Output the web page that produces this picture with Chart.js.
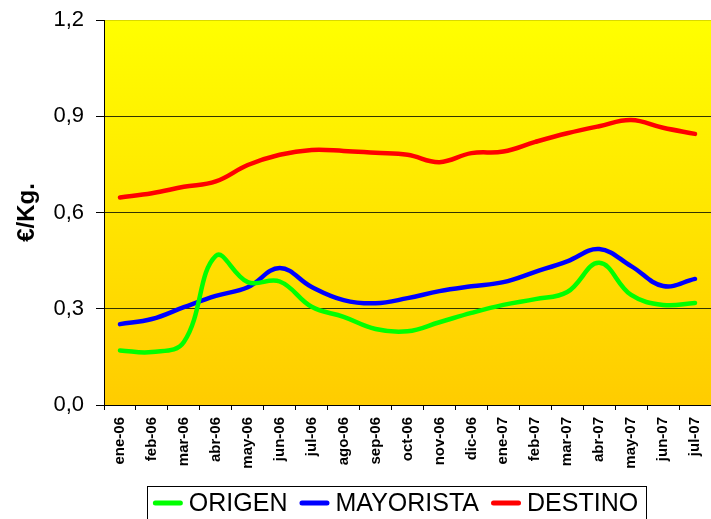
<!DOCTYPE html>
<html>
<head>
<meta charset="utf-8">
<script src="https://cdn.jsdelivr.net/npm/chart.js@4/dist/chart.umd.min.js"></script>
<style>
  html, body { margin: 0; padding: 0; background: #ffffff; }
  #wrap { width: 711px; height: 519px; }
</style>
</head>
<body>
<div id="wrap"><canvas id="precios"></canvas></div>
<script>
// Months shown along the x axis
const meses = ['ene-06', 'feb-06', 'mar-06', 'abr-06', 'may-06', 'jun-06', 'jul-06', 'ago-06', 'sep-06', 'oct-06',
               'nov-06', 'dic-06', 'ene-07', 'feb-07', 'mar-07', 'abr-07', 'may-07', 'jun-07', 'jul-07'];

// Prices in €/Kg. for each stage of the chain
const origen    = [0.17, 0.165, 0.196, 0.465, 0.383, 0.385, 0.306, 0.275, 0.237, 0.23,
                   0.258, 0.287, 0.312, 0.33, 0.352, 0.443, 0.343, 0.312, 0.318];
const mayorista = [0.252, 0.268, 0.305, 0.34, 0.367, 0.427, 0.368, 0.327, 0.317, 0.333,
                   0.355, 0.37, 0.383, 0.415, 0.448, 0.486, 0.433, 0.371, 0.393];
const destino   = [0.647, 0.66, 0.68, 0.697, 0.748, 0.78, 0.795, 0.792, 0.786, 0.78,
                   0.757, 0.785, 0.79, 0.82, 0.847, 0.869, 0.888, 0.864, 0.845];

const yTicks = [0, 0.3, 0.6, 0.9, 1.2];

const fontFamily = "'Liberation Sans', Arial, sans-serif";

// yellow to amber fill behind the plot
const plotBackground = {
  id: 'plotBackground',
  beforeDraw(chart) {
    const { ctx, chartArea: a } = chart;
    const g = ctx.createLinearGradient(0, a.top, 0, a.bottom);
    g.addColorStop(0, '#ffff00');
    g.addColorStop(1, '#ffcc00');
    ctx.save();
    ctx.fillStyle = g;
    ctx.fillRect(a.left, a.top, a.right - a.left, a.bottom - a.top);
    ctx.restore();
  }
};

// boxed legend under the axis: short thick line + series name
const boxedLegend = {
  id: 'boxedLegend',
  afterDraw(chart) {
    const ctx = chart.ctx;
    const items = chart.data.datasets.map(ds => ({ text: ds.label, color: ds.borderColor }));
    const lineLen = 30, gap = 6, spacing = 12;
    ctx.save();
    ctx.font = '25px ' + fontFamily;
    const widths = items.map(it => ctx.measureText(it.text).width);
    const total = widths.reduce((s, w) => s + lineLen + gap + w, 0) + spacing * (items.length - 1);
    const center = chart.chartArea.left + (chart.chartArea.right - chart.chartArea.left) / 2 - 12;
    let x = center - total / 2;
    const yMid = chart.height - 15;

    ctx.strokeStyle = '#000000';
    ctx.lineWidth = 1;
    ctx.strokeRect(Math.round(x - 6) + 0.5, Math.round(yMid - 18) + 0.5, Math.round(total + 14), 60);

    items.forEach((it, i) => {
      ctx.strokeStyle = it.color;
      ctx.lineWidth = 5;
      ctx.lineCap = 'round';
      ctx.beginPath();
      ctx.moveTo(x + 2.5, yMid - 1);
      ctx.lineTo(x + lineLen - 2.5, yMid - 1);
      ctx.stroke();
      ctx.fillStyle = '#000000';
      ctx.textBaseline = 'middle';
      ctx.textAlign = 'left';
      ctx.fillText(it.text, x + lineLen + gap, yMid);
      x += lineLen + gap + widths[i] + spacing;
    });
    ctx.restore();
  }
};

function serie(label, data, color) {
  return {
    label: label,
    data: data,
    borderColor: color,
    backgroundColor: color,
    borderWidth: 4.5,
    borderCapStyle: 'round',
    pointRadius: 0,
    pointHoverRadius: 0,
    tension: 0.4,
    fill: false
  };
}

new Chart(document.getElementById('precios'), {
  type: 'line',
  data: {
    labels: meses,
    datasets: [
      serie('ORIGEN', origen, '#00ff00'),
      serie('MAYORISTA', mayorista, '#0000ff'),
      serie('DESTINO', destino, '#ff0000')
    ]
  },
  plugins: [plotBackground, boxedLegend],
  options: {
    responsive: true,
    maintainAspectRatio: false,
    animation: false,
    layout: { padding: { top: 20, right: 0, left: 0, bottom: 44 } },
    plugins: {
      tooltip: { enabled: false },
      legend: { display: false }
    },
    scales: {
      x: {
        offset: true,
        grid: {
          offset: true,
          drawOnChartArea: false,
          drawTicks: true,
          tickLength: 5,
          color: '#000000'
        },
        border: { color: '#000000', width: 1 },
        ticks: {
          autoSkip: false,
          maxRotation: 90,
          minRotation: 90,
          padding: 7,
          color: '#000000',
          font: { family: fontFamily, size: 15, weight: 'bold' }
        },
        afterFit(scale) {
          scale.height = 70;
          scale.paddingLeft = 0;
          scale.paddingRight = 0;
        }
      },
      y: {
        min: 0,
        max: 1.2,
        afterBuildTicks(scale) {
          scale.ticks = yTicks.map(v => ({ value: v }));
        },
        grid: {
          color(ctx) {
            const v = ctx.tick && ctx.tick.value;
            if (v === 1.2) return 'rgba(0,0,0,0.15)';
            return '#333300';
          },
          tickColor: '#000000',
          tickLength: 8,
          lineWidth: 1
        },
        border: { color: '#000000', width: 1 },
        ticks: {
          padding: 12,
          color: '#000000',
          font: { family: fontFamily, size: 22 },
          callback: v => v.toFixed(1).replace('.', ',')
        },
        title: {
          display: true,
          text: '€/Kg.',
          color: '#000000',
          font: { family: fontFamily, size: 24, weight: 'bold' },
          padding: { top: 13, bottom: 0 }
        },
        afterFit(scale) {
          scale.width = 104;
          scale.paddingTop = 0;
          scale.paddingBottom = 0;
        }
      }
    }
  }
});
</script>
</body>
</html>
